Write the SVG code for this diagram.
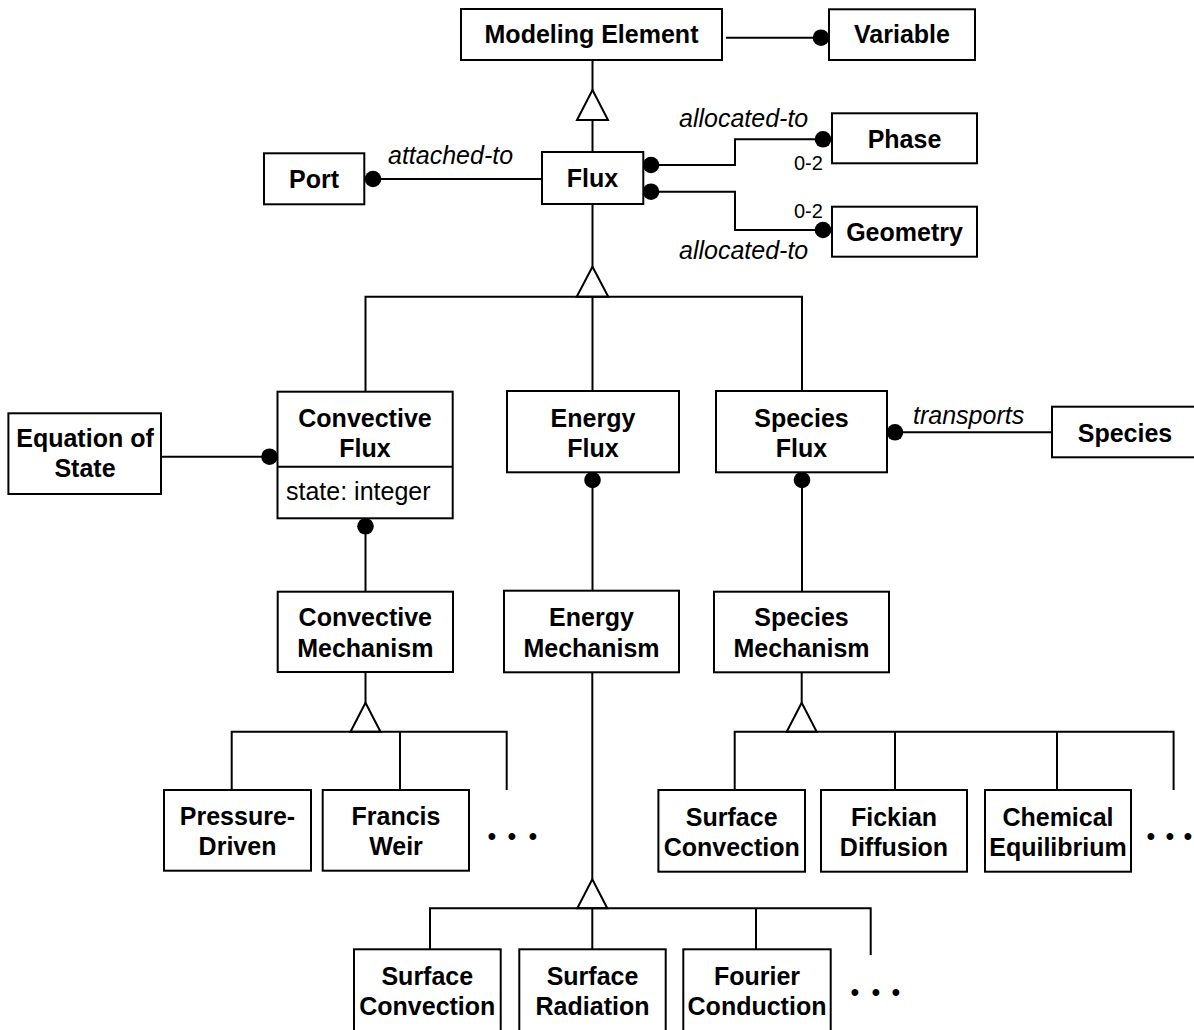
<svg xmlns="http://www.w3.org/2000/svg" width="1194" height="1030" viewBox="0 0 1194 1030">
<style>
.box{fill:#fff;stroke:#000;stroke-width:2}
.ln{fill:none;stroke:#000;stroke-width:2}
.tri{fill:#fff;stroke:#000;stroke-width:2;stroke-linejoin:miter}
.dot{fill:#000}
.b{font-family:"Liberation Sans",Arial,sans-serif;font-weight:bold;font-size:25px;text-anchor:middle;fill:#000}
.r{font-family:"Liberation Sans",Arial,sans-serif;font-size:25px;fill:#000}
.i{font-family:"Liberation Sans",Arial,sans-serif;font-style:italic;font-size:25px;fill:#000}
.s{font-family:"Liberation Sans",Arial,sans-serif;font-size:20px;fill:#000}
.el{font-family:"Liberation Sans",Arial,sans-serif;font-size:25px;text-anchor:middle;fill:#000}
</style>
<rect width="1194" height="1030" fill="#fff"/>

<g id="connectors">
  <!-- Modeling Element - Variable -->
  <line class="ln" x1="726" y1="37.7" x2="821" y2="37.7"/>
  <circle class="dot" cx="821" cy="37.7" r="8.3"/>
  <!-- Flux generalizes Modeling Element -->
  <line class="ln" x1="592.5" y1="60" x2="592.5" y2="90"/>
  <polygon class="tri" points="592.5,90 608,120 577,120"/>
  <line class="ln" x1="592.5" y1="120" x2="592.5" y2="152"/>
  <!-- Port - Flux -->
  <line class="ln" x1="373" y1="179" x2="542" y2="179"/>
  <circle class="dot" cx="373" cy="179" r="8.3"/>
  <text class="i" x="388" y="164">attached-to</text>
  <!-- Flux - Phase -->
  <polyline class="ln" points="651,165 735,165 735,139.3 823,139.3"/>
  <circle class="dot" cx="651" cy="165" r="8.3"/>
  <circle class="dot" cx="823" cy="139.3" r="8.3"/>
  <text class="i" x="679" y="126.7">allocated-to</text>
  <text class="s" x="794" y="170">0-2</text>
  <!-- Flux - Geometry -->
  <polyline class="ln" points="651,191.7 735,191.7 735,230 823,230"/>
  <circle class="dot" cx="651" cy="191.7" r="8.3"/>
  <circle class="dot" cx="823" cy="230" r="8.3"/>
  <text class="s" x="794" y="218.3">0-2</text>
  <text class="i" x="679" y="259.3">allocated-to</text>
  <!-- Flux generalization to sub-fluxes -->
  <line class="ln" x1="592.5" y1="204" x2="592.5" y2="266.7"/>
  <polygon class="tri" points="592.5,266.7 608.3,296.7 576.7,296.7"/>
  <polyline class="ln" points="365.5,391.7 365.5,296.7 802,296.7 802,391.7"/>
  <line class="ln" x1="592.5" y1="296.7" x2="592.5" y2="391"/>
  <!-- Equation of State - Convective Flux -->
  <line class="ln" x1="161" y1="456.7" x2="269.5" y2="456.7"/>
  <circle class="dot" cx="269.5" cy="456.7" r="8.3"/>
  <!-- Species Flux - Species -->
  <line class="ln" x1="895" y1="432.3" x2="1052" y2="432.3"/>
  <circle class="dot" cx="895" cy="432.3" r="8.3"/>
  <text class="i" x="913" y="424">transports</text>
  <!-- Flux to Mechanism -->
  <line class="ln" x1="365.5" y1="526.3" x2="365.5" y2="591.7"/>
  <circle class="dot" cx="365.5" cy="526.3" r="8.3"/>
  <line class="ln" x1="592.5" y1="480" x2="592.5" y2="590.7"/>
  <circle class="dot" cx="592.5" cy="480" r="8.3"/>
  <line class="ln" x1="802" y1="480" x2="802" y2="591.7"/>
  <circle class="dot" cx="802" cy="480" r="8.3"/>
  <!-- Convective Mechanism generalization -->
  <line class="ln" x1="365.5" y1="672" x2="365.5" y2="702.7"/>
  <polygon class="tri" points="365.5,702.7 380.5,731.7 350.5,731.7"/>
  <polyline class="ln" points="231.7,790 231.7,731.7 506.7,731.7 506.7,790"/>
  <line class="ln" x1="400" y1="731.7" x2="400" y2="790"/>
  <text class="el" x="492 512 533" y="845">•••</text>
  <!-- Species Mechanism generalization -->
  <line class="ln" x1="801.7" y1="672.3" x2="801.7" y2="702.7"/>
  <polygon class="tri" points="801.7,702.7 816.7,731.7 786.7,731.7"/>
  <polyline class="ln" points="734.7,790 734.7,731.7 1173.6,731.7 1173.6,790"/>
  <line class="ln" x1="895" y1="731.7" x2="895" y2="790"/>
  <line class="ln" x1="1057" y1="731.7" x2="1057" y2="790"/>
  <text class="el" x="1151 1170 1188" y="845">•••</text>
  <!-- Energy Mechanism generalization -->
  <line class="ln" x1="592.3" y1="672.3" x2="592.3" y2="879.3"/>
  <polygon class="tri" points="592.3,879.3 607.3,908.3 577.3,908.3"/>
  <polyline class="ln" points="430,949.3 430,908.3 870.7,908.3 870.7,955"/>
  <line class="ln" x1="592.3" y1="908.3" x2="592.3" y2="949.3"/>
  <line class="ln" x1="756" y1="908.3" x2="756" y2="949.3"/>
  <text class="el" x="855 876 896" y="1000.5">•••</text>
</g>

<g id="modeling-element">
  <rect class="box" x="461" y="9" width="261" height="51"/>
  <text class="b" x="591.5" y="43.3">Modeling Element</text>
</g>
<g id="variable">
  <rect class="box" x="829" y="9.3" width="146" height="50.7"/>
  <text class="b" x="902" y="43.3">Variable</text>
</g>
<g id="port">
  <rect class="box" x="264" y="153.3" width="100.3" height="51"/>
  <text class="b" x="314" y="188.3">Port</text>
</g>
<g id="flux">
  <rect class="box" x="542" y="152" width="101.3" height="52"/>
  <text class="b" x="592.5" y="187.3">Flux</text>
</g>
<g id="phase">
  <rect class="box" x="832" y="113.3" width="145" height="50"/>
  <text class="b" x="904.5" y="147.5">Phase</text>
</g>
<g id="geometry">
  <rect class="box" x="832" y="206.7" width="145" height="50"/>
  <text class="b" x="904.5" y="240.5">Geometry</text>
</g>
<g id="equation-of-state">
  <rect class="box" x="8.4" y="413.3" width="152.6" height="80.7"/>
  <text class="b" x="85" y="446.7">Equation of</text>
  <text class="b" x="85" y="476.7">State</text>
</g>
<g id="convective-flux">
  <rect class="box" x="277.5" y="391.7" width="175.2" height="126.6"/>
  <line class="ln" x1="277.5" y1="466.7" x2="452.7" y2="466.7"/>
  <text class="b" x="365" y="426.7">Convective</text>
  <text class="b" x="365" y="456.7">Flux</text>
  <text class="r" x="286" y="500">state: integer</text>
</g>
<g id="energy-flux">
  <rect class="box" x="507" y="391" width="172" height="81.3"/>
  <text class="b" x="593" y="426.7">Energy</text>
  <text class="b" x="593" y="456.7">Flux</text>
</g>
<g id="species-flux">
  <rect class="box" x="716" y="391" width="171" height="81.3"/>
  <text class="b" x="801.5" y="426.7">Species</text>
  <text class="b" x="801.5" y="456.7">Flux</text>
</g>
<g id="species">
  <rect class="box" x="1052" y="406.7" width="146" height="50.6"/>
  <text class="b" x="1125" y="441.5">Species</text>
</g>
<g id="convective-mechanism">
  <rect class="box" x="277.7" y="591.7" width="175.3" height="80.3"/>
  <text class="b" x="365.3" y="625.5">Convective</text>
  <text class="b" x="365.3" y="656.5">Mechanism</text>
</g>
<g id="energy-mechanism">
  <rect class="box" x="504" y="590.7" width="175" height="81.6"/>
  <text class="b" x="591.5" y="626">Energy</text>
  <text class="b" x="591.5" y="656.5">Mechanism</text>
</g>
<g id="species-mechanism">
  <rect class="box" x="714" y="591.7" width="175" height="80.6"/>
  <text class="b" x="801.5" y="625.5">Species</text>
  <text class="b" x="801.5" y="656.5">Mechanism</text>
</g>
<g id="pressure-driven">
  <rect class="box" x="164" y="790" width="147" height="80.7"/>
  <text class="b" x="237.5" y="825">Pressure-</text>
  <text class="b" x="237.5" y="855">Driven</text>
</g>
<g id="francis-weir">
  <rect class="box" x="322.7" y="790" width="146.3" height="80.7"/>
  <text class="b" x="396" y="825">Francis</text>
  <text class="b" x="396" y="855">Weir</text>
</g>
<g id="species-surface-convection">
  <rect class="box" x="658.4" y="790" width="146.6" height="81.7"/>
  <text class="b" x="731.7" y="826">Surface</text>
  <text class="b" x="731.7" y="855.5">Convection</text>
</g>
<g id="fickian-diffusion">
  <rect class="box" x="821" y="790" width="146" height="81.7"/>
  <text class="b" x="894" y="826">Fickian</text>
  <text class="b" x="894" y="855.5">Diffusion</text>
</g>
<g id="chemical-equilibrium">
  <rect class="box" x="985" y="790" width="146" height="81.7"/>
  <text class="b" x="1058" y="826">Chemical</text>
  <text class="b" x="1058" y="855.5">Equilibrium</text>
</g>
<g id="energy-surface-convection">
  <rect class="box" x="354" y="949.3" width="146.7" height="84"/>
  <text class="b" x="427.3" y="985">Surface</text>
  <text class="b" x="427.3" y="1015">Convection</text>
</g>
<g id="surface-radiation">
  <rect class="box" x="519.3" y="949.3" width="146.4" height="84"/>
  <text class="b" x="592.5" y="985">Surface</text>
  <text class="b" x="592.5" y="1015">Radiation</text>
</g>
<g id="fourier-conduction">
  <rect class="box" x="683.3" y="949.3" width="147.4" height="84"/>
  <text class="b" x="757" y="985">Fourier</text>
  <text class="b" x="757" y="1015">Conduction</text>
</g>
</svg>
